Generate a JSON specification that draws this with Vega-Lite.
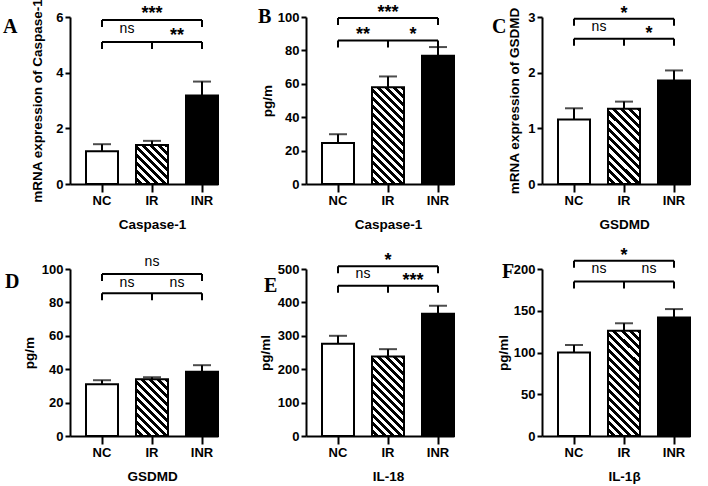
{
"$schema":"https://vega.github.io/schema/vega-lite/v6.json",
"padding":{"left":3,"top":-2,"right":5,"bottom":5},
"columns":3,
"spacing":{"row":85,"column":88},
"bounds":"flush",
"config":{"view":{"stroke":null},"font":"Liberation Sans",
"axis":{"domainColor":"black","domainWidth":2,"tickColor":"black","tickWidth":2,"labelColor":"black","labelFont":"Liberation Sans","labelFontWeight":"bold","labelFontSize":13,"titleFont":"Liberation Sans","titleFontWeight":"bold","titleFontSize":13.5,"titleColor":"black","grid":false,"labelOverlap":false},
"axisX":{"tickSize":8,"labelPadding":2,"labelAngle":0,"titlePadding":10},
"axisY":{"tickSize":5,"labelPadding":2}},
"datasets":{
"bars":[
{"panel":"A","group":"NC","mean":1.18,"hi":1.43},{"panel":"A","group":"IR","mean":1.4,"hi":1.55},{"panel":"A","group":"INR","mean":3.18,"hi":3.68},
{"panel":"B","group":"NC","mean":24.5,"hi":29.8},{"panel":"B","group":"IR","mean":58,"hi":64.4},{"panel":"B","group":"INR","mean":76.8,"hi":82},
{"panel":"C","group":"NC","mean":1.16,"hi":1.36},{"panel":"C","group":"IR","mean":1.35,"hi":1.48},{"panel":"C","group":"INR","mean":1.86,"hi":2.04},
{"panel":"D","group":"NC","mean":31,"hi":33.4},{"panel":"D","group":"IR","mean":34,"hi":35.2},{"panel":"D","group":"INR","mean":38.5,"hi":42.4},
{"panel":"E","group":"NC","mean":276,"hi":300},{"panel":"E","group":"IR","mean":238,"hi":260},{"panel":"E","group":"INR","mean":366,"hi":390},
{"panel":"F","group":"NC","mean":100,"hi":109},{"panel":"F","group":"IR","mean":126,"hi":135},{"panel":"F","group":"INR","mean":142,"hi":152}],
"brackets":[
{"panel":"A","level":5.89},{"panel":"A","level":5.1},
{"panel":"B","level":99.4},{"panel":"B","level":86},
{"panel":"C","level":2.97},{"panel":"C","level":2.61},
{"panel":"D","level":97},{"panel":"D","level":85.5},
{"panel":"E","level":508},{"panel":"E","level":450},
{"panel":"F","level":210},{"panel":"F","level":185}],
"ticks":[
{"panel":"A","group":"NC","level":5.89},{"panel":"A","group":"INR","level":5.89},{"panel":"A","group":"NC","level":5.1},{"panel":"A","group":"IR","level":5.1},{"panel":"A","group":"INR","level":5.1},
{"panel":"B","group":"NC","level":99.4},{"panel":"B","group":"INR","level":99.4},{"panel":"B","group":"NC","level":86},{"panel":"B","group":"IR","level":86},{"panel":"B","group":"INR","level":86},
{"panel":"C","group":"NC","level":2.97},{"panel":"C","group":"INR","level":2.97},{"panel":"C","group":"NC","level":2.61},{"panel":"C","group":"IR","level":2.61},{"panel":"C","group":"INR","level":2.61},
{"panel":"D","group":"NC","level":97},{"panel":"D","group":"INR","level":97},{"panel":"D","group":"NC","level":85.5},{"panel":"D","group":"IR","level":85.5},{"panel":"D","group":"INR","level":85.5},
{"panel":"E","group":"NC","level":508},{"panel":"E","group":"INR","level":508},{"panel":"E","group":"NC","level":450},{"panel":"E","group":"IR","level":450},{"panel":"E","group":"INR","level":450},
{"panel":"F","group":"NC","level":210},{"panel":"F","group":"INR","level":210},{"panel":"F","group":"NC","level":185},{"panel":"F","group":"IR","level":185},{"panel":"F","group":"INR","level":185}],
"labels":[
{"panel":"A","label":"***","y":5.93,"group":"IR","pos":"center"},{"panel":"A","label":"ns","y":5.41,"group":"NC","pos":"between"},{"panel":"A","label":"**","y":5.12,"group":"IR","pos":"between"},
{"panel":"B","label":"***","y":99.6,"group":"IR","pos":"center"},{"panel":"B","label":"**","y":86.2,"group":"NC","pos":"between"},{"panel":"B","label":"*","y":86.2,"group":"IR","pos":"between"},
{"panel":"C","label":"*","y":2.97,"group":"IR","pos":"center"},{"panel":"C","label":"ns","y":2.75,"group":"NC","pos":"between"},{"panel":"C","label":"*","y":2.61,"group":"IR","pos":"between"},
{"panel":"D","label":"ns","y":101.8,"group":"IR","pos":"center"},{"panel":"D","label":"ns","y":89.4,"group":"NC","pos":"between"},{"panel":"D","label":"ns","y":89.4,"group":"IR","pos":"between"},
{"panel":"E","label":"*","y":508,"group":"IR","pos":"center"},{"panel":"E","label":"ns","y":474,"group":"NC","pos":"between"},{"panel":"E","label":"***","y":450,"group":"IR","pos":"between"},
{"panel":"F","label":"*","y":210,"group":"IR","pos":"center"},{"panel":"F","label":"ns","y":195,"group":"NC","pos":"between"},{"panel":"F","label":"ns","y":195,"group":"IR","pos":"between"}]
},
"concat":[
{"width":148,"height":167,
"title":{"text":"A","anchor":"start","frame":"group","offset":0,"dx":-67,"dy":55,"font":"Liberation Serif","fontSize":20,"fontWeight":"bold","color":"black","baseline":"alphabetic"},
"encoding":{"x":{"field":"group","type":"nominal","scale":{"domain":["NC","IR","INR"],"paddingInner":0.36,"paddingOuter":0.16,"align":1},"axis":{"title":"Caspase-1","titleX":82}}},
"layer":[
{"data":{"name":"bars"},"transform":[{"filter":"datum.panel==='A'"}],"mark":{"type":"bar","stroke":"black","strokeWidth":2},
"encoding":{"y":{"field":"mean","type":"quantitative","scale":{"domain":[0,6],"nice":false},"axis":{"values":[0,2,4,6],"title":"mRNA expression of Caspase-1","titlePadding":11}},
"fill":{"condition":[{"test":"datum.group==='NC'","value":"#ffffff"},{"test":"datum.group==='IR'","value":{"gradient":"linear","x1":0,"y1":1,"x2":0.889,"y2":-0.09,"stops":[
{"offset":0,"color":"#fff"},{"offset":0.0556,"color":"#fff"},{"offset":0.0556,"color":"#000"},{"offset":0.1111,"color":"#000"},
{"offset":0.1111,"color":"#fff"},{"offset":0.1667,"color":"#fff"},{"offset":0.1667,"color":"#000"},{"offset":0.2222,"color":"#000"},
{"offset":0.2222,"color":"#fff"},{"offset":0.2778,"color":"#fff"},{"offset":0.2778,"color":"#000"},{"offset":0.3333,"color":"#000"},
{"offset":0.3333,"color":"#fff"},{"offset":0.3889,"color":"#fff"},{"offset":0.3889,"color":"#000"},{"offset":0.4444,"color":"#000"},
{"offset":0.4444,"color":"#fff"},{"offset":0.5,"color":"#fff"},{"offset":0.5,"color":"#000"},{"offset":0.5556,"color":"#000"},
{"offset":0.5556,"color":"#fff"},{"offset":0.6111,"color":"#fff"},{"offset":0.6111,"color":"#000"},{"offset":0.6667,"color":"#000"},
{"offset":0.6667,"color":"#fff"},{"offset":0.7222,"color":"#fff"},{"offset":0.7222,"color":"#000"},{"offset":0.7778,"color":"#000"},
{"offset":0.7778,"color":"#fff"},{"offset":0.8333,"color":"#fff"},{"offset":0.8333,"color":"#000"},{"offset":0.8889,"color":"#000"},
{"offset":0.8889,"color":"#fff"},{"offset":0.9444,"color":"#fff"},{"offset":0.9444,"color":"#000"},{"offset":1,"color":"#000"}]}}],"value":"#000000"}}},
{"data":{"name":"bars"},"transform":[{"filter":"datum.panel==='A'"}],"mark":{"type":"rule","strokeWidth":2,"color":"black"},"encoding":{"y":{"field":"mean","type":"quantitative","scale":{"domain":[0,6],"nice":false},"axis":{"values":[0,2,4,6],"title":"mRNA expression of Caspase-1","titlePadding":11}},"y2":{"field":"hi"}}},
{"data":{"name":"bars"},"transform":[{"filter":"datum.panel==='A'"}],"mark":{"type":"tick","size":18,"thickness":2,"color":"black"},"encoding":{"y":{"field":"hi","type":"quantitative","scale":{"domain":[0,6],"nice":false},"axis":{"values":[0,2,4,6],"title":"mRNA expression of Caspase-1","titlePadding":11}}}},
{"data":{"name":"brackets"},"transform":[{"filter":"datum.panel==='A'"}],"mark":{"type":"rule","strokeWidth":2,"color":"black"},"encoding":{"x":{"datum":"NC","type":"nominal","bandPosition":0.5},"x2":{"datum":"INR","bandPosition":0.5},"y":{"field":"level","type":"quantitative","scale":{"domain":[0,6],"nice":false},"axis":{"values":[0,2,4,6],"title":"mRNA expression of Caspase-1","titlePadding":11}}}},
{"data":{"name":"ticks"},"transform":[{"filter":"datum.panel==='A'"}],"mark":{"type":"rule","strokeWidth":2,"color":"black","y2Offset":7},"encoding":{"y":{"field":"level","type":"quantitative","scale":{"domain":[0,6],"nice":false},"axis":{"values":[0,2,4,6],"title":"mRNA expression of Caspase-1","titlePadding":11}},"y2":{"field":"level"}}},
{"data":{"name":"labels"},"transform":[{"filter":"datum.panel==='A' && datum.pos==='center' && datum.label==='ns'"}],"mark":{"type":"text","fontSize":14,"color":"black","baseline":"alphabetic","align":"center"},"encoding":{"y":{"field":"y","type":"quantitative","scale":{"domain":[0,6],"nice":false},"axis":{"values":[0,2,4,6],"title":"mRNA expression of Caspase-1","titlePadding":11}},"text":{"field":"label"}}},
{"data":{"name":"labels"},"transform":[{"filter":"datum.panel==='A' && datum.pos==='center' && datum.label!=='ns'"}],"mark":{"type":"text","fontSize":18,"fontWeight":"bold","color":"black","baseline":"alphabetic","align":"center"},"encoding":{"y":{"field":"y","type":"quantitative","scale":{"domain":[0,6],"nice":false},"axis":{"values":[0,2,4,6],"title":"mRNA expression of Caspase-1","titlePadding":11}},"text":{"field":"label"}}},
{"data":{"name":"labels"},"transform":[{"filter":"datum.panel==='A' && datum.pos==='between' && datum.label==='ns'"}],"mark":{"type":"text","fontSize":14,"color":"black","baseline":"alphabetic","align":"center"},"encoding":{"x":{"field":"group","type":"nominal","bandPosition":1.28125},"y":{"field":"y","type":"quantitative","scale":{"domain":[0,6],"nice":false},"axis":{"values":[0,2,4,6],"title":"mRNA expression of Caspase-1","titlePadding":11}},"text":{"field":"label"}}},
{"data":{"name":"labels"},"transform":[{"filter":"datum.panel==='A' && datum.pos==='between' && datum.label!=='ns'"}],"mark":{"type":"text","fontSize":18,"fontWeight":"bold","color":"black","baseline":"alphabetic","align":"center"},"encoding":{"x":{"field":"group","type":"nominal","bandPosition":1.28125},"y":{"field":"y","type":"quantitative","scale":{"domain":[0,6],"nice":false},"axis":{"values":[0,2,4,6],"title":"mRNA expression of Caspase-1","titlePadding":11}},"text":{"field":"label"}}}
]},
{"width":148,"height":167,
"title":{"text":"B","anchor":"start","frame":"group","offset":0,"dx":-48,"dy":39,"font":"Liberation Serif","fontSize":20,"fontWeight":"bold","color":"black","baseline":"alphabetic"},
"encoding":{"x":{"field":"group","type":"nominal","scale":{"domain":["NC","IR","INR"],"paddingInner":0.36,"paddingOuter":0.16,"align":1},"axis":{"title":"Caspase-1","titleX":82}}},
"layer":[
{"data":{"name":"bars"},"transform":[{"filter":"datum.panel==='B'"}],"mark":{"type":"bar","stroke":"black","strokeWidth":2},
"encoding":{"y":{"field":"mean","type":"quantitative","scale":{"domain":[0,100],"nice":false},"axis":{"values":[0,20,40,60,80,100],"title":"pg/m","titlePadding":3}},
"fill":{"condition":[{"test":"datum.group==='NC'","value":"#ffffff"},{"test":"datum.group==='IR'","value":{"gradient":"linear","x1":0,"y1":1,"x2":0.394,"y2":-0.199,"stops":[
{"offset":0,"color":"#fff"},{"offset":0.03125,"color":"#fff"},{"offset":0.03125,"color":"#000"},{"offset":0.0625,"color":"#000"},
{"offset":0.0625,"color":"#fff"},{"offset":0.09375,"color":"#fff"},{"offset":0.09375,"color":"#000"},{"offset":0.125,"color":"#000"},
{"offset":0.125,"color":"#fff"},{"offset":0.15625,"color":"#fff"},{"offset":0.15625,"color":"#000"},{"offset":0.1875,"color":"#000"},
{"offset":0.1875,"color":"#fff"},{"offset":0.21875,"color":"#fff"},{"offset":0.21875,"color":"#000"},{"offset":0.25,"color":"#000"},
{"offset":0.25,"color":"#fff"},{"offset":0.28125,"color":"#fff"},{"offset":0.28125,"color":"#000"},{"offset":0.3125,"color":"#000"},
{"offset":0.3125,"color":"#fff"},{"offset":0.34375,"color":"#fff"},{"offset":0.34375,"color":"#000"},{"offset":0.375,"color":"#000"},
{"offset":0.375,"color":"#fff"},{"offset":0.40625,"color":"#fff"},{"offset":0.40625,"color":"#000"},{"offset":0.4375,"color":"#000"},
{"offset":0.4375,"color":"#fff"},{"offset":0.46875,"color":"#fff"},{"offset":0.46875,"color":"#000"},{"offset":0.5,"color":"#000"},
{"offset":0.5,"color":"#fff"},{"offset":0.53125,"color":"#fff"},{"offset":0.53125,"color":"#000"},{"offset":0.5625,"color":"#000"},
{"offset":0.5625,"color":"#fff"},{"offset":0.59375,"color":"#fff"},{"offset":0.59375,"color":"#000"},{"offset":0.625,"color":"#000"},
{"offset":0.625,"color":"#fff"},{"offset":0.65625,"color":"#fff"},{"offset":0.65625,"color":"#000"},{"offset":0.6875,"color":"#000"},
{"offset":0.6875,"color":"#fff"},{"offset":0.71875,"color":"#fff"},{"offset":0.71875,"color":"#000"},{"offset":0.75,"color":"#000"},
{"offset":0.75,"color":"#fff"},{"offset":0.78125,"color":"#fff"},{"offset":0.78125,"color":"#000"},{"offset":0.8125,"color":"#000"},
{"offset":0.8125,"color":"#fff"},{"offset":0.84375,"color":"#fff"},{"offset":0.84375,"color":"#000"},{"offset":0.875,"color":"#000"},
{"offset":0.875,"color":"#fff"},{"offset":0.90625,"color":"#fff"},{"offset":0.90625,"color":"#000"},{"offset":0.9375,"color":"#000"},
{"offset":0.9375,"color":"#fff"},{"offset":0.96875,"color":"#fff"},{"offset":0.96875,"color":"#000"},{"offset":1,"color":"#000"}]}}],"value":"#000000"}}},
{"data":{"name":"bars"},"transform":[{"filter":"datum.panel==='B'"}],"mark":{"type":"rule","strokeWidth":2,"color":"black"},"encoding":{"y":{"field":"mean","type":"quantitative","scale":{"domain":[0,100],"nice":false},"axis":{"values":[0,20,40,60,80,100],"title":"pg/m","titlePadding":3}},"y2":{"field":"hi"}}},
{"data":{"name":"bars"},"transform":[{"filter":"datum.panel==='B'"}],"mark":{"type":"tick","size":18,"thickness":2,"color":"black"},"encoding":{"y":{"field":"hi","type":"quantitative","scale":{"domain":[0,100],"nice":false},"axis":{"values":[0,20,40,60,80,100],"title":"pg/m","titlePadding":3}}}},
{"data":{"name":"brackets"},"transform":[{"filter":"datum.panel==='B'"}],"mark":{"type":"rule","strokeWidth":2,"color":"black"},"encoding":{"x":{"datum":"NC","type":"nominal","bandPosition":0.5},"x2":{"datum":"INR","bandPosition":0.5},"y":{"field":"level","type":"quantitative","scale":{"domain":[0,100],"nice":false},"axis":{"values":[0,20,40,60,80,100],"title":"pg/m","titlePadding":3}}}},
{"data":{"name":"ticks"},"transform":[{"filter":"datum.panel==='B'"}],"mark":{"type":"rule","strokeWidth":2,"color":"black","y2Offset":7},"encoding":{"y":{"field":"level","type":"quantitative","scale":{"domain":[0,100],"nice":false},"axis":{"values":[0,20,40,60,80,100],"title":"pg/m","titlePadding":3}},"y2":{"field":"level"}}},
{"data":{"name":"labels"},"transform":[{"filter":"datum.panel==='B' && datum.pos==='center' && datum.label==='ns'"}],"mark":{"type":"text","fontSize":14,"color":"black","baseline":"alphabetic","align":"center"},"encoding":{"y":{"field":"y","type":"quantitative","scale":{"domain":[0,100],"nice":false},"axis":{"values":[0,20,40,60,80,100],"title":"pg/m","titlePadding":3}},"text":{"field":"label"}}},
{"data":{"name":"labels"},"transform":[{"filter":"datum.panel==='B' && datum.pos==='center' && datum.label!=='ns'"}],"mark":{"type":"text","fontSize":18,"fontWeight":"bold","color":"black","baseline":"alphabetic","align":"center"},"encoding":{"y":{"field":"y","type":"quantitative","scale":{"domain":[0,100],"nice":false},"axis":{"values":[0,20,40,60,80,100],"title":"pg/m","titlePadding":3}},"text":{"field":"label"}}},
{"data":{"name":"labels"},"transform":[{"filter":"datum.panel==='B' && datum.pos==='between' && datum.label==='ns'"}],"mark":{"type":"text","fontSize":14,"color":"black","baseline":"alphabetic","align":"center"},"encoding":{"x":{"field":"group","type":"nominal","bandPosition":1.28125},"y":{"field":"y","type":"quantitative","scale":{"domain":[0,100],"nice":false},"axis":{"values":[0,20,40,60,80,100],"title":"pg/m","titlePadding":3}},"text":{"field":"label"}}},
{"data":{"name":"labels"},"transform":[{"filter":"datum.panel==='B' && datum.pos==='between' && datum.label!=='ns'"}],"mark":{"type":"text","fontSize":18,"fontWeight":"bold","color":"black","baseline":"alphabetic","align":"center"},"encoding":{"x":{"field":"group","type":"nominal","bandPosition":1.28125},"y":{"field":"y","type":"quantitative","scale":{"domain":[0,100],"nice":false},"axis":{"values":[0,20,40,60,80,100],"title":"pg/m","titlePadding":3}},"text":{"field":"label"}}}
]},
{"width":148,"height":167,
"title":{"text":"C","anchor":"start","frame":"group","offset":0,"dx":-50,"dy":48,"font":"Liberation Serif","fontSize":20,"fontWeight":"bold","color":"black","baseline":"alphabetic"},
"encoding":{"x":{"field":"group","type":"nominal","scale":{"domain":["NC","IR","INR"],"paddingInner":0.36,"paddingOuter":0.16,"align":1},"axis":{"title":"GSDMD","titleX":82}}},
"layer":[
{"data":{"name":"bars"},"transform":[{"filter":"datum.panel==='C'"}],"mark":{"type":"bar","stroke":"black","strokeWidth":2},
"encoding":{"y":{"field":"mean","type":"quantitative","scale":{"domain":[0,3],"nice":false},"axis":{"values":[0,1,2,3],"title":"mRNA expression of GSDMD","titlePadding":6}},
"fill":{"condition":[{"test":"datum.group==='NC'","value":"#ffffff"},{"test":"datum.group==='IR'","value":{"gradient":"linear","x1":0,"y1":1,"x2":0.512,"y2":-0.207,"stops":[
{"offset":0,"color":"#fff"},{"offset":0.0385,"color":"#fff"},{"offset":0.0385,"color":"#000"},{"offset":0.0769,"color":"#000"},
{"offset":0.0769,"color":"#fff"},{"offset":0.1154,"color":"#fff"},{"offset":0.1154,"color":"#000"},{"offset":0.1538,"color":"#000"},
{"offset":0.1538,"color":"#fff"},{"offset":0.1923,"color":"#fff"},{"offset":0.1923,"color":"#000"},{"offset":0.2308,"color":"#000"},
{"offset":0.2308,"color":"#fff"},{"offset":0.2692,"color":"#fff"},{"offset":0.2692,"color":"#000"},{"offset":0.3077,"color":"#000"},
{"offset":0.3077,"color":"#fff"},{"offset":0.3462,"color":"#fff"},{"offset":0.3462,"color":"#000"},{"offset":0.3846,"color":"#000"},
{"offset":0.3846,"color":"#fff"},{"offset":0.4231,"color":"#fff"},{"offset":0.4231,"color":"#000"},{"offset":0.4615,"color":"#000"},
{"offset":0.4615,"color":"#fff"},{"offset":0.5,"color":"#fff"},{"offset":0.5,"color":"#000"},{"offset":0.5385,"color":"#000"},
{"offset":0.5385,"color":"#fff"},{"offset":0.5769,"color":"#fff"},{"offset":0.5769,"color":"#000"},{"offset":0.6154,"color":"#000"},
{"offset":0.6154,"color":"#fff"},{"offset":0.6538,"color":"#fff"},{"offset":0.6538,"color":"#000"},{"offset":0.6923,"color":"#000"},
{"offset":0.6923,"color":"#fff"},{"offset":0.7308,"color":"#fff"},{"offset":0.7308,"color":"#000"},{"offset":0.7692,"color":"#000"},
{"offset":0.7692,"color":"#fff"},{"offset":0.8077,"color":"#fff"},{"offset":0.8077,"color":"#000"},{"offset":0.8462,"color":"#000"},
{"offset":0.8462,"color":"#fff"},{"offset":0.8846,"color":"#fff"},{"offset":0.8846,"color":"#000"},{"offset":0.9231,"color":"#000"},
{"offset":0.9231,"color":"#fff"},{"offset":0.9615,"color":"#fff"},{"offset":0.9615,"color":"#000"},{"offset":1,"color":"#000"}]}}],"value":"#000000"}}},
{"data":{"name":"bars"},"transform":[{"filter":"datum.panel==='C'"}],"mark":{"type":"rule","strokeWidth":2,"color":"black"},"encoding":{"y":{"field":"mean","type":"quantitative","scale":{"domain":[0,3],"nice":false},"axis":{"values":[0,1,2,3],"title":"mRNA expression of GSDMD","titlePadding":6}},"y2":{"field":"hi"}}},
{"data":{"name":"bars"},"transform":[{"filter":"datum.panel==='C'"}],"mark":{"type":"tick","size":18,"thickness":2,"color":"black"},"encoding":{"y":{"field":"hi","type":"quantitative","scale":{"domain":[0,3],"nice":false},"axis":{"values":[0,1,2,3],"title":"mRNA expression of GSDMD","titlePadding":6}}}},
{"data":{"name":"brackets"},"transform":[{"filter":"datum.panel==='C'"}],"mark":{"type":"rule","strokeWidth":2,"color":"black"},"encoding":{"x":{"datum":"NC","type":"nominal","bandPosition":0.5},"x2":{"datum":"INR","bandPosition":0.5},"y":{"field":"level","type":"quantitative","scale":{"domain":[0,3],"nice":false},"axis":{"values":[0,1,2,3],"title":"mRNA expression of GSDMD","titlePadding":6}}}},
{"data":{"name":"ticks"},"transform":[{"filter":"datum.panel==='C'"}],"mark":{"type":"rule","strokeWidth":2,"color":"black","y2Offset":7},"encoding":{"y":{"field":"level","type":"quantitative","scale":{"domain":[0,3],"nice":false},"axis":{"values":[0,1,2,3],"title":"mRNA expression of GSDMD","titlePadding":6}},"y2":{"field":"level"}}},
{"data":{"name":"labels"},"transform":[{"filter":"datum.panel==='C' && datum.pos==='center' && datum.label==='ns'"}],"mark":{"type":"text","fontSize":14,"color":"black","baseline":"alphabetic","align":"center"},"encoding":{"y":{"field":"y","type":"quantitative","scale":{"domain":[0,3],"nice":false},"axis":{"values":[0,1,2,3],"title":"mRNA expression of GSDMD","titlePadding":6}},"text":{"field":"label"}}},
{"data":{"name":"labels"},"transform":[{"filter":"datum.panel==='C' && datum.pos==='center' && datum.label!=='ns'"}],"mark":{"type":"text","fontSize":18,"fontWeight":"bold","color":"black","baseline":"alphabetic","align":"center"},"encoding":{"y":{"field":"y","type":"quantitative","scale":{"domain":[0,3],"nice":false},"axis":{"values":[0,1,2,3],"title":"mRNA expression of GSDMD","titlePadding":6}},"text":{"field":"label"}}},
{"data":{"name":"labels"},"transform":[{"filter":"datum.panel==='C' && datum.pos==='between' && datum.label==='ns'"}],"mark":{"type":"text","fontSize":14,"color":"black","baseline":"alphabetic","align":"center"},"encoding":{"x":{"field":"group","type":"nominal","bandPosition":1.28125},"y":{"field":"y","type":"quantitative","scale":{"domain":[0,3],"nice":false},"axis":{"values":[0,1,2,3],"title":"mRNA expression of GSDMD","titlePadding":6}},"text":{"field":"label"}}},
{"data":{"name":"labels"},"transform":[{"filter":"datum.panel==='C' && datum.pos==='between' && datum.label!=='ns'"}],"mark":{"type":"text","fontSize":18,"fontWeight":"bold","color":"black","baseline":"alphabetic","align":"center"},"encoding":{"x":{"field":"group","type":"nominal","bandPosition":1.28125},"y":{"field":"y","type":"quantitative","scale":{"domain":[0,3],"nice":false},"axis":{"values":[0,1,2,3],"title":"mRNA expression of GSDMD","titlePadding":6}},"text":{"field":"label"}}}
]},
{"width":148,"height":167,
"title":{"text":"D","anchor":"start","frame":"group","offset":0,"dx":-65,"dy":53,"font":"Liberation Serif","fontSize":20,"fontWeight":"bold","color":"black","baseline":"alphabetic"},
"encoding":{"x":{"field":"group","type":"nominal","scale":{"domain":["NC","IR","INR"],"paddingInner":0.36,"paddingOuter":0.16,"align":1},"axis":{"title":"GSDMD","titleX":82}}},
"layer":[
{"data":{"name":"bars"},"transform":[{"filter":"datum.panel==='D'"}],"mark":{"type":"bar","stroke":"black","strokeWidth":2},
"encoding":{"y":{"field":"mean","type":"quantitative","scale":{"domain":[0,100],"nice":false},"axis":{"values":[0,20,40,60,80,100],"title":"pg/m","titlePadding":5}},
"fill":{"condition":[{"test":"datum.group==='NC'","value":"#ffffff"},{"test":"datum.group==='IR'","value":{"gradient":"linear","x1":0,"y1":1,"x2":0.665,"y2":-0.188,"stops":[
{"offset":0,"color":"#fff"},{"offset":0.0455,"color":"#fff"},{"offset":0.0455,"color":"#000"},{"offset":0.0909,"color":"#000"},
{"offset":0.0909,"color":"#fff"},{"offset":0.1364,"color":"#fff"},{"offset":0.1364,"color":"#000"},{"offset":0.1818,"color":"#000"},
{"offset":0.1818,"color":"#fff"},{"offset":0.2273,"color":"#fff"},{"offset":0.2273,"color":"#000"},{"offset":0.2727,"color":"#000"},
{"offset":0.2727,"color":"#fff"},{"offset":0.3182,"color":"#fff"},{"offset":0.3182,"color":"#000"},{"offset":0.3636,"color":"#000"},
{"offset":0.3636,"color":"#fff"},{"offset":0.4091,"color":"#fff"},{"offset":0.4091,"color":"#000"},{"offset":0.4545,"color":"#000"},
{"offset":0.4545,"color":"#fff"},{"offset":0.5,"color":"#fff"},{"offset":0.5,"color":"#000"},{"offset":0.5455,"color":"#000"},
{"offset":0.5455,"color":"#fff"},{"offset":0.5909,"color":"#fff"},{"offset":0.5909,"color":"#000"},{"offset":0.6364,"color":"#000"},
{"offset":0.6364,"color":"#fff"},{"offset":0.6818,"color":"#fff"},{"offset":0.6818,"color":"#000"},{"offset":0.7273,"color":"#000"},
{"offset":0.7273,"color":"#fff"},{"offset":0.7727,"color":"#fff"},{"offset":0.7727,"color":"#000"},{"offset":0.8182,"color":"#000"},
{"offset":0.8182,"color":"#fff"},{"offset":0.8636,"color":"#fff"},{"offset":0.8636,"color":"#000"},{"offset":0.9091,"color":"#000"},
{"offset":0.9091,"color":"#fff"},{"offset":0.9545,"color":"#fff"},{"offset":0.9545,"color":"#000"},{"offset":1,"color":"#000"}]}}],"value":"#000000"}}},
{"data":{"name":"bars"},"transform":[{"filter":"datum.panel==='D'"}],"mark":{"type":"rule","strokeWidth":2,"color":"black"},"encoding":{"y":{"field":"mean","type":"quantitative","scale":{"domain":[0,100],"nice":false},"axis":{"values":[0,20,40,60,80,100],"title":"pg/m","titlePadding":5}},"y2":{"field":"hi"}}},
{"data":{"name":"bars"},"transform":[{"filter":"datum.panel==='D'"}],"mark":{"type":"tick","size":18,"thickness":2,"color":"black"},"encoding":{"y":{"field":"hi","type":"quantitative","scale":{"domain":[0,100],"nice":false},"axis":{"values":[0,20,40,60,80,100],"title":"pg/m","titlePadding":5}}}},
{"data":{"name":"brackets"},"transform":[{"filter":"datum.panel==='D'"}],"mark":{"type":"rule","strokeWidth":2,"color":"black"},"encoding":{"x":{"datum":"NC","type":"nominal","bandPosition":0.5},"x2":{"datum":"INR","bandPosition":0.5},"y":{"field":"level","type":"quantitative","scale":{"domain":[0,100],"nice":false},"axis":{"values":[0,20,40,60,80,100],"title":"pg/m","titlePadding":5}}}},
{"data":{"name":"ticks"},"transform":[{"filter":"datum.panel==='D'"}],"mark":{"type":"rule","strokeWidth":2,"color":"black","y2Offset":7},"encoding":{"y":{"field":"level","type":"quantitative","scale":{"domain":[0,100],"nice":false},"axis":{"values":[0,20,40,60,80,100],"title":"pg/m","titlePadding":5}},"y2":{"field":"level"}}},
{"data":{"name":"labels"},"transform":[{"filter":"datum.panel==='D' && datum.pos==='center' && datum.label==='ns'"}],"mark":{"type":"text","fontSize":14,"color":"black","baseline":"alphabetic","align":"center"},"encoding":{"y":{"field":"y","type":"quantitative","scale":{"domain":[0,100],"nice":false},"axis":{"values":[0,20,40,60,80,100],"title":"pg/m","titlePadding":5}},"text":{"field":"label"}}},
{"data":{"name":"labels"},"transform":[{"filter":"datum.panel==='D' && datum.pos==='center' && datum.label!=='ns'"}],"mark":{"type":"text","fontSize":18,"fontWeight":"bold","color":"black","baseline":"alphabetic","align":"center"},"encoding":{"y":{"field":"y","type":"quantitative","scale":{"domain":[0,100],"nice":false},"axis":{"values":[0,20,40,60,80,100],"title":"pg/m","titlePadding":5}},"text":{"field":"label"}}},
{"data":{"name":"labels"},"transform":[{"filter":"datum.panel==='D' && datum.pos==='between' && datum.label==='ns'"}],"mark":{"type":"text","fontSize":14,"color":"black","baseline":"alphabetic","align":"center"},"encoding":{"x":{"field":"group","type":"nominal","bandPosition":1.28125},"y":{"field":"y","type":"quantitative","scale":{"domain":[0,100],"nice":false},"axis":{"values":[0,20,40,60,80,100],"title":"pg/m","titlePadding":5}},"text":{"field":"label"}}},
{"data":{"name":"labels"},"transform":[{"filter":"datum.panel==='D' && datum.pos==='between' && datum.label!=='ns'"}],"mark":{"type":"text","fontSize":18,"fontWeight":"bold","color":"black","baseline":"alphabetic","align":"center"},"encoding":{"x":{"field":"group","type":"nominal","bandPosition":1.28125},"y":{"field":"y","type":"quantitative","scale":{"domain":[0,100],"nice":false},"axis":{"values":[0,20,40,60,80,100],"title":"pg/m","titlePadding":5}},"text":{"field":"label"}}}
]},
{"width":148,"height":167,
"title":{"text":"E","anchor":"start","frame":"group","offset":0,"dx":-42,"dy":60,"font":"Liberation Serif","fontSize":20,"fontWeight":"bold","color":"black","baseline":"alphabetic"},
"encoding":{"x":{"field":"group","type":"nominal","scale":{"domain":["NC","IR","INR"],"paddingInner":0.36,"paddingOuter":0.16,"align":1},"axis":{"title":"IL-18","titleX":82}}},
"layer":[
{"data":{"name":"bars"},"transform":[{"filter":"datum.panel==='E'"}],"mark":{"type":"bar","stroke":"black","strokeWidth":2},
"encoding":{"y":{"field":"mean","type":"quantitative","scale":{"domain":[0,500],"nice":false},"axis":{"values":[0,100,200,300,400,500],"title":"pg/ml","titlePadding":5}},
"fill":{"condition":[{"test":"datum.group==='NC'","value":"#ffffff"},{"test":"datum.group==='IR'","value":{"gradient":"linear","x1":0,"y1":1,"x2":0.483,"y2":-0.207,"stops":[
{"offset":0,"color":"#fff"},{"offset":0.0357,"color":"#fff"},{"offset":0.0357,"color":"#000"},{"offset":0.0714,"color":"#000"},
{"offset":0.0714,"color":"#fff"},{"offset":0.1071,"color":"#fff"},{"offset":0.1071,"color":"#000"},{"offset":0.1429,"color":"#000"},
{"offset":0.1429,"color":"#fff"},{"offset":0.1786,"color":"#fff"},{"offset":0.1786,"color":"#000"},{"offset":0.2143,"color":"#000"},
{"offset":0.2143,"color":"#fff"},{"offset":0.25,"color":"#fff"},{"offset":0.25,"color":"#000"},{"offset":0.2857,"color":"#000"},
{"offset":0.2857,"color":"#fff"},{"offset":0.3214,"color":"#fff"},{"offset":0.3214,"color":"#000"},{"offset":0.3571,"color":"#000"},
{"offset":0.3571,"color":"#fff"},{"offset":0.3929,"color":"#fff"},{"offset":0.3929,"color":"#000"},{"offset":0.4286,"color":"#000"},
{"offset":0.4286,"color":"#fff"},{"offset":0.4643,"color":"#fff"},{"offset":0.4643,"color":"#000"},{"offset":0.5,"color":"#000"},
{"offset":0.5,"color":"#fff"},{"offset":0.5357,"color":"#fff"},{"offset":0.5357,"color":"#000"},{"offset":0.5714,"color":"#000"},
{"offset":0.5714,"color":"#fff"},{"offset":0.6071,"color":"#fff"},{"offset":0.6071,"color":"#000"},{"offset":0.6429,"color":"#000"},
{"offset":0.6429,"color":"#fff"},{"offset":0.6786,"color":"#fff"},{"offset":0.6786,"color":"#000"},{"offset":0.7143,"color":"#000"},
{"offset":0.7143,"color":"#fff"},{"offset":0.75,"color":"#fff"},{"offset":0.75,"color":"#000"},{"offset":0.7857,"color":"#000"},
{"offset":0.7857,"color":"#fff"},{"offset":0.8214,"color":"#fff"},{"offset":0.8214,"color":"#000"},{"offset":0.8571,"color":"#000"},
{"offset":0.8571,"color":"#fff"},{"offset":0.8929,"color":"#fff"},{"offset":0.8929,"color":"#000"},{"offset":0.9286,"color":"#000"},
{"offset":0.9286,"color":"#fff"},{"offset":0.9643,"color":"#fff"},{"offset":0.9643,"color":"#000"},{"offset":1,"color":"#000"}]}}],"value":"#000000"}}},
{"data":{"name":"bars"},"transform":[{"filter":"datum.panel==='E'"}],"mark":{"type":"rule","strokeWidth":2,"color":"black"},"encoding":{"y":{"field":"mean","type":"quantitative","scale":{"domain":[0,500],"nice":false},"axis":{"values":[0,100,200,300,400,500],"title":"pg/ml","titlePadding":5}},"y2":{"field":"hi"}}},
{"data":{"name":"bars"},"transform":[{"filter":"datum.panel==='E'"}],"mark":{"type":"tick","size":18,"thickness":2,"color":"black"},"encoding":{"y":{"field":"hi","type":"quantitative","scale":{"domain":[0,500],"nice":false},"axis":{"values":[0,100,200,300,400,500],"title":"pg/ml","titlePadding":5}}}},
{"data":{"name":"brackets"},"transform":[{"filter":"datum.panel==='E'"}],"mark":{"type":"rule","strokeWidth":2,"color":"black"},"encoding":{"x":{"datum":"NC","type":"nominal","bandPosition":0.5},"x2":{"datum":"INR","bandPosition":0.5},"y":{"field":"level","type":"quantitative","scale":{"domain":[0,500],"nice":false},"axis":{"values":[0,100,200,300,400,500],"title":"pg/ml","titlePadding":5}}}},
{"data":{"name":"ticks"},"transform":[{"filter":"datum.panel==='E'"}],"mark":{"type":"rule","strokeWidth":2,"color":"black","y2Offset":7},"encoding":{"y":{"field":"level","type":"quantitative","scale":{"domain":[0,500],"nice":false},"axis":{"values":[0,100,200,300,400,500],"title":"pg/ml","titlePadding":5}},"y2":{"field":"level"}}},
{"data":{"name":"labels"},"transform":[{"filter":"datum.panel==='E' && datum.pos==='center' && datum.label==='ns'"}],"mark":{"type":"text","fontSize":14,"color":"black","baseline":"alphabetic","align":"center"},"encoding":{"y":{"field":"y","type":"quantitative","scale":{"domain":[0,500],"nice":false},"axis":{"values":[0,100,200,300,400,500],"title":"pg/ml","titlePadding":5}},"text":{"field":"label"}}},
{"data":{"name":"labels"},"transform":[{"filter":"datum.panel==='E' && datum.pos==='center' && datum.label!=='ns'"}],"mark":{"type":"text","fontSize":18,"fontWeight":"bold","color":"black","baseline":"alphabetic","align":"center"},"encoding":{"y":{"field":"y","type":"quantitative","scale":{"domain":[0,500],"nice":false},"axis":{"values":[0,100,200,300,400,500],"title":"pg/ml","titlePadding":5}},"text":{"field":"label"}}},
{"data":{"name":"labels"},"transform":[{"filter":"datum.panel==='E' && datum.pos==='between' && datum.label==='ns'"}],"mark":{"type":"text","fontSize":14,"color":"black","baseline":"alphabetic","align":"center"},"encoding":{"x":{"field":"group","type":"nominal","bandPosition":1.28125},"y":{"field":"y","type":"quantitative","scale":{"domain":[0,500],"nice":false},"axis":{"values":[0,100,200,300,400,500],"title":"pg/ml","titlePadding":5}},"text":{"field":"label"}}},
{"data":{"name":"labels"},"transform":[{"filter":"datum.panel==='E' && datum.pos==='between' && datum.label!=='ns'"}],"mark":{"type":"text","fontSize":18,"fontWeight":"bold","color":"black","baseline":"alphabetic","align":"center"},"encoding":{"x":{"field":"group","type":"nominal","bandPosition":1.28125},"y":{"field":"y","type":"quantitative","scale":{"domain":[0,500],"nice":false},"axis":{"values":[0,100,200,300,400,500],"title":"pg/ml","titlePadding":5}},"text":{"field":"label"}}}
]},
{"width":148,"height":167,
"title":{"text":"F","anchor":"start","frame":"group","offset":0,"dx":-40,"dy":51,"font":"Liberation Serif","fontSize":20,"fontWeight":"bold","color":"black","baseline":"alphabetic"},
"encoding":{"x":{"field":"group","type":"nominal","scale":{"domain":["NC","IR","INR"],"paddingInner":0.36,"paddingOuter":0.16,"align":1},"axis":{"title":"IL-1β","titleX":82}}},
"layer":[
{"data":{"name":"bars"},"transform":[{"filter":"datum.panel==='F'"}],"mark":{"type":"bar","stroke":"black","strokeWidth":2},
"encoding":{"y":{"field":"mean","type":"quantitative","scale":{"domain":[0,200],"nice":false},"axis":{"values":[0,50,100,150,200],"title":"pg/ml","titlePadding":3}},
"fill":{"condition":[{"test":"datum.group==='NC'","value":"#ffffff"},{"test":"datum.group==='IR'","value":{"gradient":"linear","x1":0,"y1":1,"x2":0.361,"y2":-0.194,"stops":[
{"offset":0,"color":"#fff"},{"offset":0.0294,"color":"#fff"},{"offset":0.0294,"color":"#000"},{"offset":0.0588,"color":"#000"},
{"offset":0.0588,"color":"#fff"},{"offset":0.0882,"color":"#fff"},{"offset":0.0882,"color":"#000"},{"offset":0.1176,"color":"#000"},
{"offset":0.1176,"color":"#fff"},{"offset":0.1471,"color":"#fff"},{"offset":0.1471,"color":"#000"},{"offset":0.1765,"color":"#000"},
{"offset":0.1765,"color":"#fff"},{"offset":0.2059,"color":"#fff"},{"offset":0.2059,"color":"#000"},{"offset":0.2353,"color":"#000"},
{"offset":0.2353,"color":"#fff"},{"offset":0.2647,"color":"#fff"},{"offset":0.2647,"color":"#000"},{"offset":0.2941,"color":"#000"},
{"offset":0.2941,"color":"#fff"},{"offset":0.3235,"color":"#fff"},{"offset":0.3235,"color":"#000"},{"offset":0.3529,"color":"#000"},
{"offset":0.3529,"color":"#fff"},{"offset":0.3824,"color":"#fff"},{"offset":0.3824,"color":"#000"},{"offset":0.4118,"color":"#000"},
{"offset":0.4118,"color":"#fff"},{"offset":0.4412,"color":"#fff"},{"offset":0.4412,"color":"#000"},{"offset":0.4706,"color":"#000"},
{"offset":0.4706,"color":"#fff"},{"offset":0.5,"color":"#fff"},{"offset":0.5,"color":"#000"},{"offset":0.5294,"color":"#000"},
{"offset":0.5294,"color":"#fff"},{"offset":0.5588,"color":"#fff"},{"offset":0.5588,"color":"#000"},{"offset":0.5882,"color":"#000"},
{"offset":0.5882,"color":"#fff"},{"offset":0.6176,"color":"#fff"},{"offset":0.6176,"color":"#000"},{"offset":0.6471,"color":"#000"},
{"offset":0.6471,"color":"#fff"},{"offset":0.6765,"color":"#fff"},{"offset":0.6765,"color":"#000"},{"offset":0.7059,"color":"#000"},
{"offset":0.7059,"color":"#fff"},{"offset":0.7353,"color":"#fff"},{"offset":0.7353,"color":"#000"},{"offset":0.7647,"color":"#000"},
{"offset":0.7647,"color":"#fff"},{"offset":0.7941,"color":"#fff"},{"offset":0.7941,"color":"#000"},{"offset":0.8235,"color":"#000"},
{"offset":0.8235,"color":"#fff"},{"offset":0.8529,"color":"#fff"},{"offset":0.8529,"color":"#000"},{"offset":0.8824,"color":"#000"},
{"offset":0.8824,"color":"#fff"},{"offset":0.9118,"color":"#fff"},{"offset":0.9118,"color":"#000"},{"offset":0.9412,"color":"#000"},
{"offset":0.9412,"color":"#fff"},{"offset":0.9706,"color":"#fff"},{"offset":0.9706,"color":"#000"},{"offset":1,"color":"#000"}]}}],"value":"#000000"}}},
{"data":{"name":"bars"},"transform":[{"filter":"datum.panel==='F'"}],"mark":{"type":"rule","strokeWidth":2,"color":"black"},"encoding":{"y":{"field":"mean","type":"quantitative","scale":{"domain":[0,200],"nice":false},"axis":{"values":[0,50,100,150,200],"title":"pg/ml","titlePadding":3}},"y2":{"field":"hi"}}},
{"data":{"name":"bars"},"transform":[{"filter":"datum.panel==='F'"}],"mark":{"type":"tick","size":18,"thickness":2,"color":"black"},"encoding":{"y":{"field":"hi","type":"quantitative","scale":{"domain":[0,200],"nice":false},"axis":{"values":[0,50,100,150,200],"title":"pg/ml","titlePadding":3}}}},
{"data":{"name":"brackets"},"transform":[{"filter":"datum.panel==='F'"}],"mark":{"type":"rule","strokeWidth":2,"color":"black"},"encoding":{"x":{"datum":"NC","type":"nominal","bandPosition":0.5},"x2":{"datum":"INR","bandPosition":0.5},"y":{"field":"level","type":"quantitative","scale":{"domain":[0,200],"nice":false},"axis":{"values":[0,50,100,150,200],"title":"pg/ml","titlePadding":3}}}},
{"data":{"name":"ticks"},"transform":[{"filter":"datum.panel==='F'"}],"mark":{"type":"rule","strokeWidth":2,"color":"black","y2Offset":7},"encoding":{"y":{"field":"level","type":"quantitative","scale":{"domain":[0,200],"nice":false},"axis":{"values":[0,50,100,150,200],"title":"pg/ml","titlePadding":3}},"y2":{"field":"level"}}},
{"data":{"name":"labels"},"transform":[{"filter":"datum.panel==='F' && datum.pos==='center' && datum.label==='ns'"}],"mark":{"type":"text","fontSize":14,"color":"black","baseline":"alphabetic","align":"center"},"encoding":{"y":{"field":"y","type":"quantitative","scale":{"domain":[0,200],"nice":false},"axis":{"values":[0,50,100,150,200],"title":"pg/ml","titlePadding":3}},"text":{"field":"label"}}},
{"data":{"name":"labels"},"transform":[{"filter":"datum.panel==='F' && datum.pos==='center' && datum.label!=='ns'"}],"mark":{"type":"text","fontSize":18,"fontWeight":"bold","color":"black","baseline":"alphabetic","align":"center"},"encoding":{"y":{"field":"y","type":"quantitative","scale":{"domain":[0,200],"nice":false},"axis":{"values":[0,50,100,150,200],"title":"pg/ml","titlePadding":3}},"text":{"field":"label"}}},
{"data":{"name":"labels"},"transform":[{"filter":"datum.panel==='F' && datum.pos==='between' && datum.label==='ns'"}],"mark":{"type":"text","fontSize":14,"color":"black","baseline":"alphabetic","align":"center"},"encoding":{"x":{"field":"group","type":"nominal","bandPosition":1.28125},"y":{"field":"y","type":"quantitative","scale":{"domain":[0,200],"nice":false},"axis":{"values":[0,50,100,150,200],"title":"pg/ml","titlePadding":3}},"text":{"field":"label"}}},
{"data":{"name":"labels"},"transform":[{"filter":"datum.panel==='F' && datum.pos==='between' && datum.label!=='ns'"}],"mark":{"type":"text","fontSize":18,"fontWeight":"bold","color":"black","baseline":"alphabetic","align":"center"},"encoding":{"x":{"field":"group","type":"nominal","bandPosition":1.28125},"y":{"field":"y","type":"quantitative","scale":{"domain":[0,200],"nice":false},"axis":{"values":[0,50,100,150,200],"title":"pg/ml","titlePadding":3}},"text":{"field":"label"}}}
]}
]
}
